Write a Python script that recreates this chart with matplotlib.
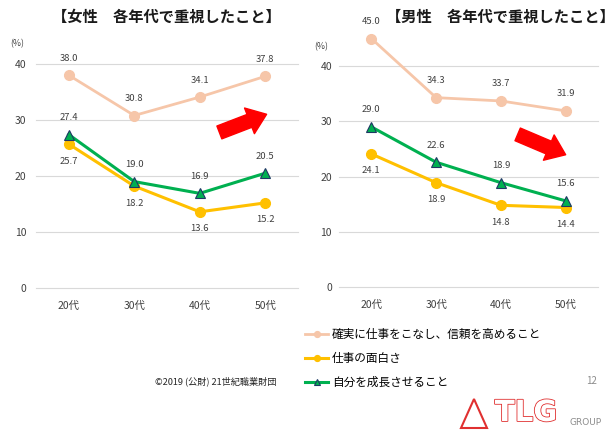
import matplotlib
matplotlib.use("Agg")
import matplotlib.pyplot as plt
import matplotlib.patheffects as pe
from matplotlib.patches import Polygon

plt.rcParams['font.family'] = ['Noto Sans CJK JP', 'DejaVu Sans']

ages = ["20代", "30代", "40代", "50代"]
labels = ["確実に仕事をこなし、信頼を高めること", "仕事の面白さ", "自分を成長させること"]
women_trust = [38.0, 30.8, 34.1, 37.8]
women_fun = [25.7, 18.2, 13.6, 15.2]
women_grow = [27.4, 19.0, 16.9, 20.5]
men_trust = [45.0, 34.3, 33.7, 31.9]
men_fun = [24.1, 18.9, 14.8, 14.4]
men_grow = [29.0, 22.6, 18.9, 15.6]
yticks = [0, 10, 20, 30, 40]

c_trust = "#F6C6A9"
c_fun = "#FFC000"
c_grow = "#00B050"
txt = "#404040"

fig = plt.figure(figsize=(6.15, 4.36), dpi=100)
axL = fig.add_axes([36/615, 1-288/436, 262/615, 268.8/436])
axR = fig.add_axes([339/615, 1-287/436, 259/615, 265/436])

def draw(ax, trust, fun, grow, pad):
    x = range(len(ages))
    h1, = ax.plot(x, trust, color=c_trust, lw=2, marker="o", ms=7, zorder=3)
    h2, = ax.plot(x, fun, color=c_fun, lw=2.2, marker="o", ms=7, zorder=3)
    h3, = ax.plot(x, grow, color=c_grow, lw=2.2, marker="^", ms=7,
                  mfc=c_grow, mec="#1F3864", mew=0.8, zorder=4)
    for i in x:
        ax.annotate(f"{trust[i]:.1f}", (i, trust[i]), xytext=(0, 9), textcoords="offset points",
                    ha="center", va="bottom", fontsize=6.8, color=txt)
        ax.annotate(f"{grow[i]:.1f}", (i, grow[i]), xytext=(0, 9), textcoords="offset points",
                    ha="center", va="bottom", fontsize=6.8, color=txt)
        ax.annotate(f"{fun[i]:.1f}", (i, fun[i]), xytext=(0, -9), textcoords="offset points",
                    ha="center", va="top", fontsize=6.8, color=txt)
    ax.set_xlim(-0.5, 3.5)
    ax.set_ylim(0, 48)
    ax.set_yticks(yticks)
    ax.set_xticks(list(x))
    ax.set_xticklabels(ages)
    ax.grid(axis="y", color="#D9D9D9", lw=0.8)
    for gl in ax.get_ygridlines():
        gl.set_clip_on(False)
    ax.set_axisbelow(True)
    for s in ax.spines.values():
        s.set_visible(False)
    ax.tick_params(axis="y", length=0, pad=pad, labelsize=7.5, labelcolor=txt)
    ax.tick_params(axis="x", length=0, pad=9, labelsize=7.5, labelcolor=txt)
    ax.text(-0.07, 40/48 + 0.065, "(%)", transform=ax.transAxes, fontsize=6.3, color=txt,
            ha="center")
    return h1, h2, h3

handles = draw(axL, women_trust, women_fun, women_grow, 7)
draw(axR, men_trust, men_fun, men_grow, 5)

fig.text(166/615, 1-17/436, "【女性　各年代で重視したこと】", ha="center", va="center",
         fontsize=11, fontweight="bold", color="#1A1A1A")
fig.text(500/615, 1-17/436, "【男性　各年代で重視したこと】", ha="center", va="center",
         fontsize=11, fontweight="bold", color="#1A1A1A")

arrow = dict(arrowstyle="simple,head_width=0.9,head_length=0.6,tail_width=0.45",
             color="#FF0000", mutation_scale=22)
axL.annotate("", xy=(0.89, 0.65), xytext=(0.69, 0.575), xycoords="axes fraction",
             arrowprops=arrow)
axR.annotate("", xy=(0.885, 0.495), xytext=(0.68, 0.58), xycoords="axes fraction",
             arrowprops=arrow)

fig.legend(handles, labels, loc="upper left", bbox_to_anchor=(305/615, 1-328/436),
           frameon=False, fontsize=8.4, handlelength=2.0, handletextpad=0.3,
           labelspacing=0.95, markerscale=0.6, borderaxespad=0, borderpad=0)

fig.text(216/615, 1-381/436, "©2019 (公財) 21世紀職業財団", ha="center", va="center",
         fontsize=6.6, color="#262626")
fig.text(592/615, 1-381/436, "12", ha="center", va="center", fontsize=7, color="#8C8C8C")

# logo
fig.patches.append(Polygon([(461/615, 1-428/436), (474/615, 1-399/436), (487/615, 1-428/436)],
                           closed=True, fill=False, ec="#E03030", lw=1.5,
                           transform=fig.transFigure, figure=fig))
fig.text(526/615, 1-413/436, "TLG", ha="center", va="center", fontsize=21,
         color="white", family="DejaVu Sans", fontweight="bold",
         path_effects=[pe.withStroke(linewidth=1.2, foreground="#E03030")])
fig.text(586/615, 1-422/436, "GROUP", ha="center", va="center", fontsize=6.5, color="#8C8C8C",
         family="DejaVu Sans")

fig.savefig("out.png", dpi=100)
